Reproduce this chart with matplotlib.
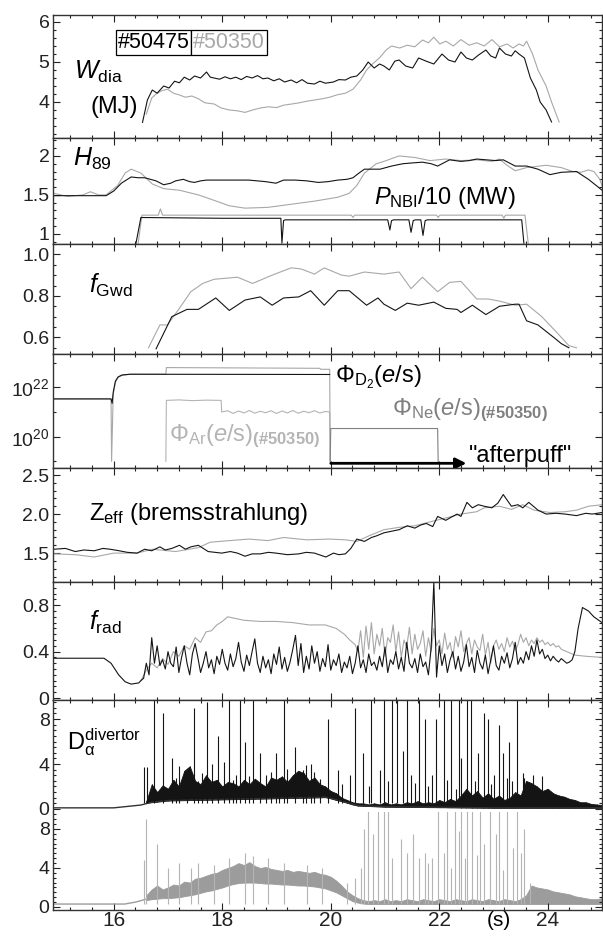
import numpy as np
import matplotlib
matplotlib.use("Agg")
import matplotlib.pyplot as plt
from matplotlib.ticker import MultipleLocator, NullFormatter, FixedLocator

plt.rcParams['font.family'] = ['Liberation Sans', 'DejaVu Sans']
plt.rcParams['mathtext.fontset'] = 'custom'
plt.rcParams['mathtext.rm'] = 'Liberation Sans'
plt.rcParams['mathtext.it'] = 'Liberation Sans:italic'
plt.rcParams['mathtext.bf'] = 'Liberation Sans:bold'

BLK = '#141414'
GRY = '#a8a8a8'
NE_GRY = '#808080'
AR_GRY = '#b4b4b4'
DA_GRY = '#9c9c9c'

XMIN, XMAX = 14.88, 25.0

# ---- W_dia (MJ)
WDIA_BLK_T = [16.53, 16.62, 16.71, 16.80, 16.92, 17.02, 17.12, 17.21, 17.30, 17.40,
              17.49, 17.60, 17.71, 17.78, 17.85, 17.95, 18.05, 18.15, 18.25, 18.35,
              18.45, 18.55, 18.65, 18.75, 18.84, 18.95, 19.05, 19.15, 19.27, 19.37,
              19.47, 19.57, 19.70, 19.80, 19.90, 20.05, 20.15, 20.27, 20.37, 20.48,
              20.59, 20.69, 20.80, 20.90, 20.98, 21.08, 21.18, 21.26, 21.38, 21.51,
              21.62, 21.76, 21.90, 22.05, 22.17, 22.29, 22.40, 22.50, 22.61, 22.73,
              22.86, 22.95, 23.04, 23.11, 23.22, 23.33, 23.40, 23.47, 23.57, 23.68,
              23.79, 23.86, 23.97, 24.07]
WDIA_BLK = [3.49, 4.05, 4.30, 4.22, 4.40, 4.35, 4.52, 4.48, 4.62, 4.55,
            4.65, 4.60, 4.75, 4.62, 4.60, 4.57, 4.63, 4.58, 4.62, 4.56,
            4.64, 4.60, 4.66, 4.58, 4.60, 4.53, 4.58, 4.50, 4.55, 4.48,
            4.56, 4.47, 4.45, 4.52, 4.47, 4.50, 4.56, 4.55, 4.62, 4.65,
            4.80, 5.00, 4.85, 4.95, 4.90, 4.80, 5.02, 5.05, 4.90, 4.85,
            5.10, 5.02, 4.95, 5.20, 5.05, 5.00, 5.25, 5.10, 5.05, 5.18,
            5.30, 5.15, 5.10, 5.35, 5.20, 5.15, 5.28, 5.20, 5.10, 4.60,
            4.30, 4.00, 3.80, 3.50]
WDIA_GRY_T = [16.60, 16.70, 16.78, 16.88, 16.99, 17.10, 17.20, 17.32, 17.44, 17.56,
              17.68, 17.85, 17.98, 18.13, 18.28, 18.42, 18.56, 18.70, 18.85, 19.00,
              19.13, 19.28, 19.42, 19.56, 19.70, 19.84, 19.98, 20.12, 20.27, 20.41,
              20.55, 20.66, 20.77, 20.91, 21.02, 21.12, 21.27, 21.41, 21.55, 21.69,
              21.80, 21.90, 22.01, 22.12, 22.26, 22.40, 22.55, 22.69, 22.83, 22.97,
              23.11, 23.25, 23.36, 23.47, 23.55, 23.61, 23.72, 23.82, 23.97, 24.07,
              24.21]
WDIA_GRY = [3.70, 4.10, 4.20, 4.28, 4.32, 4.22, 4.18, 4.12, 4.15, 4.08,
            3.98, 3.95, 3.85, 3.80, 3.78, 3.74, 3.80, 3.85, 3.88, 3.86,
            3.92, 3.95, 3.98, 4.02, 4.05, 4.08, 4.12, 4.18, 4.22, 4.32,
            4.55, 4.80, 4.95, 5.12, 5.30, 5.40, 5.35, 5.42, 5.38, 5.55,
            5.48, 5.62, 5.45, 5.52, 5.40, 5.56, 5.42, 5.48, 5.40, 5.56,
            5.38, 5.45, 5.35, 5.45, 5.40, 5.52, 5.20, 4.80, 4.40, 4.00,
            3.50]

# ---- H89 and P_NBI/10
H89_BLK_T = [14.90, 15.30, 15.86, 16.00, 16.14, 16.32, 16.45, 16.57, 16.78, 16.92,
             17.05, 17.14, 17.28, 17.40, 17.49, 17.60, 17.71, 18.10, 18.49, 18.80,
             18.99, 19.13, 19.35, 19.56, 19.77, 19.95, 20.13, 20.30, 20.41, 20.52,
             20.62, 20.91, 21.12, 21.33, 21.50, 21.69, 21.85, 21.97, 22.19, 22.40,
             22.55, 22.69, 23.04, 23.18, 23.40, 23.61, 23.82, 24.04, 24.25, 24.53,
             24.75, 24.93, 25.00]
H89_BLK = [1.49, 1.49, 1.49, 1.55, 1.65, 1.73, 1.72, 1.72, 1.68, 1.63,
           1.65, 1.68, 1.70, 1.67, 1.66, 1.68, 1.69, 1.69, 1.69, 1.67,
           1.65, 1.69, 1.69, 1.68, 1.66, 1.67, 1.69, 1.70, 1.72, 1.78,
           1.83, 1.83, 1.87, 1.90, 1.91, 1.92, 1.90, 1.87, 1.95, 1.93,
           1.94, 1.96, 1.94, 1.95, 1.87, 1.87, 1.83, 1.76, 1.79, 1.80,
           1.70, 1.60, 1.56]
H89_GRY_T = [14.90, 15.15, 15.43, 15.57, 15.72, 15.86, 16.07, 16.21, 16.32, 16.50,
             16.71, 16.92, 17.21, 17.56, 17.85, 18.13, 18.42, 18.84, 19.27, 19.70,
             20.13, 20.34, 20.48, 20.62, 20.84, 20.98, 21.26, 21.55, 21.83, 22.12,
             22.40, 22.69, 22.97, 23.11, 23.25, 23.40, 23.61, 23.97, 24.25, 24.46,
             24.61, 24.75, 24.85, 24.96, 25.00]
H89_GRY = [1.52, 1.48, 1.50, 1.54, 1.50, 1.50, 1.62, 1.78, 1.83, 1.78,
           1.64, 1.58, 1.56, 1.50, 1.43, 1.36, 1.33, 1.34, 1.38, 1.42,
           1.47, 1.52, 1.62, 1.78, 1.90, 1.93, 2.00, 1.98, 1.94, 1.96,
           1.94, 1.95, 1.93, 1.96, 1.88, 1.81, 1.85, 1.88, 1.85, 1.80,
           1.79, 1.82, 1.80, 1.70, 1.62]
NBI_BLK_T = [16.41, 16.50, 18.00, 19.08, 19.10, 19.13, 19.16, 21.05, 21.09, 21.12, 21.16,
             21.44, 21.48, 21.52, 21.56, 21.66, 21.70, 21.74, 21.78, 23.52, 23.56]
NBI_BLK = [0.88, 1.21, 1.20, 1.20, 0.88, 1.17, 1.18, 1.18, 1.05, 1.17, 1.18,
           1.18, 1.02, 1.17, 1.18, 1.18, 0.98, 1.17, 1.18, 1.18, 0.88]
NBI_GRY_T = [16.45, 16.52, 16.82, 16.86, 16.90, 18.50, 20.38, 20.41, 20.44,
             21.95, 21.98, 22.01, 23.16, 23.19, 23.22, 23.58, 23.64]
NBI_GRY = [0.88, 1.24, 1.24, 1.32, 1.24, 1.24, 1.24, 1.21, 1.24,
           1.24, 1.21, 1.24, 1.24, 1.20, 1.24, 1.24, 0.88]

# ---- f_Gwd
FGW_BLK_T = [16.78, 17.07, 17.35, 17.56, 17.88, 18.13, 18.42, 18.70, 18.92, 19.13,
             19.41, 19.63, 19.88, 20.13, 20.34, 20.66, 20.87, 20.98, 21.19, 21.41,
             21.62, 21.90, 22.12, 22.33, 22.40, 22.61, 22.86, 23.11, 23.40, 23.47,
             23.61, 23.82, 24.11, 24.25, 24.39]
FGW_BLK = [0.545, 0.70, 0.735, 0.735, 0.79, 0.73, 0.78, 0.795, 0.755, 0.79,
           0.795, 0.825, 0.755, 0.825, 0.825, 0.755, 0.79, 0.76, 0.73, 0.765,
           0.755, 0.77, 0.74, 0.735, 0.72, 0.755, 0.71, 0.75, 0.76, 0.76,
           0.68, 0.66, 0.60, 0.57, 0.55]
FGW_GRY_T = [16.64, 16.85, 16.99, 17.21, 17.42, 17.64, 17.85, 18.28, 18.56, 18.92,
             19.27, 19.45, 19.70, 19.88, 20.20, 20.34, 20.62, 20.98, 21.26, 21.48,
             21.69, 21.97, 22.19, 22.40, 22.69, 22.90, 23.11, 23.40, 23.61, 23.89,
             24.18, 24.39, 24.53]
FGW_GRY = [0.55, 0.66, 0.66, 0.74, 0.82, 0.86, 0.88, 0.89, 0.86, 0.90,
           0.935, 0.93, 0.905, 0.935, 0.90, 0.895, 0.915, 0.905, 0.915, 0.835,
           0.89, 0.82, 0.865, 0.87, 0.785, 0.785, 0.775, 0.755, 0.76, 0.70,
           0.62, 0.56, 0.55]

# ---- gas fluxes, log10(e/s)
D2_BLK_T = [14.90, 15.95, 15.97, 15.99, 16.03, 16.08, 16.15, 16.30, 19.98]
D2_BLK = [21.53, 21.53, 21.35, 21.80, 22.25, 22.42, 22.50, 22.53, 22.52]
D2_GRY_T = [14.90, 15.95, 15.96, 15.99, 16.03, 16.08, 16.15, 16.30, 16.96, 16.97,
            19.80, 19.81, 19.98, 19.99]
D2_GRY = [21.53, 21.53, 19.00, 21.70, 22.20, 22.40, 22.48, 22.53, 22.53, 22.80,
          22.77, 22.73, 22.73, 19.00]
AR_T = [16.96, 16.97, 17.20, 17.45, 17.70, 17.98, 17.99, 18.10, 18.20, 18.30,
        18.40, 18.50, 18.60, 18.70, 18.80, 18.90, 19.00, 19.10, 19.20, 19.30,
        19.40, 19.50, 19.60, 19.70, 19.80, 19.90, 19.98, 19.99]
AR = [19.00, 21.47, 21.49, 21.46, 21.48, 21.47, 21.00, 21.05, 20.94, 21.04,
      20.96, 21.06, 20.95, 21.03, 20.97, 21.05, 20.94, 21.04, 20.96, 21.06,
      20.95, 21.03, 20.97, 21.05, 20.96, 21.02, 21.00, 19.00]
NE_T = [19.99, 20.00, 21.97, 21.98]
NE = [19.00, 20.33, 20.33, 19.00]
AFTERPUFF = [20.0, 22.5, 18.92]   # start, end, log level

# ---- Z_eff
ZEF_BLK_T = [14.90, 15.11, 15.29, 15.45, 15.64, 15.80, 15.93, 16.10, 16.25, 16.43,
             16.57, 16.70, 16.85, 16.95, 17.07, 17.21, 17.32, 17.42, 17.56, 17.74,
             17.99, 18.15, 18.28, 18.42, 18.55, 18.70, 18.85, 18.99, 19.20, 19.41,
             19.55, 19.70, 19.91, 20.05, 20.15, 20.27, 20.37, 20.48, 20.62, 20.75,
             20.84, 20.98, 21.12, 21.26, 21.41, 21.55, 21.66, 21.76, 21.88, 21.97,
             22.12, 22.22, 22.33, 22.40, 22.51, 22.61, 22.72, 22.83, 22.97, 23.08,
             23.18, 23.33, 23.45, 23.54, 23.65, 23.82, 23.97, 24.15, 24.32, 24.53,
             24.70, 24.82, 25.00]
ZEF_BLK = [1.55, 1.56, 1.52, 1.54, 1.53, 1.56, 1.55, 1.53, 1.51, 1.50,
           1.55, 1.53, 1.58, 1.54, 1.56, 1.60, 1.55, 1.58, 1.60, 1.52,
           1.50, 1.52, 1.50, 1.46, 1.49, 1.49, 1.51, 1.50, 1.48, 1.49,
           1.51, 1.50, 1.45, 1.50, 1.48, 1.49, 1.56, 1.68, 1.65, 1.70,
           1.72, 1.76, 1.78, 1.80, 1.85, 1.82, 1.86, 1.88, 1.84, 1.97,
           1.92, 1.96, 2.00, 1.97, 2.15, 2.08, 2.12, 2.10, 2.08, 2.14,
           2.25, 2.10, 2.12, 2.08, 2.15, 2.05, 2.00, 2.01, 2.00, 1.98,
           2.01, 2.00, 2.02]
ZEF_GRY_T = [14.90, 15.29, 15.64, 16.00, 16.43, 16.71, 17.14, 17.56, 17.78, 18.13,
             18.49, 18.84, 19.13, 19.56, 19.98, 20.27, 20.48, 20.70, 20.98, 21.26,
             21.55, 21.83, 22.12, 22.40, 22.69, 22.83, 23.11, 23.33, 23.54, 23.75,
             24.04, 24.32, 24.53, 24.75, 25.00]
ZEF_GRY = [1.49, 1.48, 1.45, 1.50, 1.50, 1.55, 1.52, 1.57, 1.64, 1.66,
           1.68, 1.66, 1.70, 1.67, 1.68, 1.67, 1.65, 1.72, 1.80, 1.83,
           1.85, 1.90, 1.95, 2.00, 2.03, 2.08, 2.10, 2.06, 2.12, 2.05,
           2.02, 2.03, 2.05, 2.10, 2.12]

# ---- f_rad
FRAD_BLK_HEAD_T = [14.90, 15.82, 15.95, 16.09, 16.21, 16.32, 16.46, 16.50]
FRAD_BLK_HEAD = [0.343, 0.343, 0.30, 0.20, 0.14, 0.12, 0.13, 0.15]
FRAD_BLK_T0, FRAD_DT = 16.55, 0.05
FRAD_BLK_NOISE = [
    0.17, 0.30, 0.20, 0.52, 0.30, 0.45, 0.28, 0.33, 0.25, 0.40, 0.30, 0.27, 0.44, 0.22, 0.35, 0.45, 0.30, 0.20, 0.38, 0.47,
    0.35, 0.22, 0.30, 0.40, 0.26, 0.33, 0.21, 0.36, 0.29, 0.42, 0.30, 0.24, 0.38, 0.27, 0.34, 0.48, 0.31, 0.23, 0.37, 0.28,
    0.40, 0.51, 0.30, 0.22, 0.36, 0.26, 0.33, 0.21, 0.38, 0.29, 0.44, 0.25, 0.35, 0.23, 0.31, 0.42, 0.54, 0.28, 0.47, 0.22,
    0.36, 0.25, 0.45, 0.30, 0.40, 0.23, 0.34, 0.27, 0.46, 0.24, 0.33, 0.28, 0.38, 0.22, 0.31, 0.26, 0.36, 0.21, 0.30, 0.45,
    0.26, 0.33, 0.22, 0.38, 0.28, 0.31, 0.24, 0.36, 0.27, 0.44, 0.22, 0.33, 0.29, 0.40, 0.25, 0.35, 0.23, 0.48, 0.30, 0.26,
    0.34, 0.22, 0.38, 0.27, 0.31, 0.20, 0.43, 1.00, 0.18, 0.45, 0.28, 0.38, 0.22, 0.33, 0.40, 0.25, 0.36, 0.23, 0.31, 0.46,
    0.27, 0.35, 0.22, 0.41, 0.30, 0.25, 0.37, 0.21, 0.33, 0.45, 0.28, 0.24, 0.36, 0.30, 0.39, 0.26, 0.34, 0.48, 0.29, 0.35,
    0.30, 0.40, 0.33, 0.45, 0.36, 0.50, 0.38, 0.42, 0.34, 0.37, 0.32, 0.36, 0.33, 0.31, 0.34, 0.32, 0.30, 0.31, 0.33]
FRAD_BLK_TAIL_T = [24.50, 24.56, 24.64, 24.75, 24.85, 25.00]
FRAD_BLK_TAIL = [0.40, 0.60, 0.78, 0.75, 0.70, 0.65]

FRAD_GRY_HEAD_T = [16.50, 16.60, 16.70, 16.80, 16.90, 17.00, 17.10, 17.20, 17.30, 17.40,
                   17.50, 17.60, 17.70, 17.80, 17.90, 18.00, 18.10, 18.40, 18.70, 19.00,
                   19.30, 19.60, 19.90, 20.10, 20.25, 20.35, 20.45]
FRAD_GRY_HEAD = [0.15, 0.24, 0.30, 0.26, 0.34, 0.29, 0.40, 0.36, 0.45, 0.42,
                 0.52, 0.48, 0.57, 0.58, 0.63, 0.66, 0.70, 0.67, 0.66, 0.66,
                 0.65, 0.63, 0.63, 0.60, 0.55, 0.50, 0.46]
FRAD_GRY_T0 = 20.50
FRAD_GRY_NOISE = [
    0.40, 0.58, 0.35, 0.62, 0.42, 0.65, 0.38, 0.55, 0.45, 0.60, 0.36, 0.52, 0.48, 0.63, 0.40, 0.57, 0.35, 0.50, 0.44, 0.61,
    0.38, 0.55, 0.42, 0.47, 0.58, 0.36, 0.52, 0.40, 0.60, 0.45, 0.50, 0.38, 0.56, 0.42, 0.48, 0.35, 0.53, 0.44, 0.58, 0.40,
    0.47, 0.52, 0.38, 0.50, 0.44, 0.41, 0.55, 0.37, 0.48, 0.30, 0.45, 0.50, 0.42, 0.47, 0.40, 0.52, 0.44, 0.49, 0.41, 0.46,
    0.55, 0.48, 0.52, 0.45, 0.50, 0.47, 0.52, 0.48, 0.50, 0.46, 0.48, 0.45, 0.47, 0.44, 0.45, 0.42]
FRAD_GRY_TAIL_T = [24.35, 24.50, 24.70, 25.00]
FRAD_GRY_TAIL = [0.40, 0.37, 0.36, 0.35]

# ---- D_alpha divertor, #50475
DA1_BASE_T = [14.90, 16.00, 16.10, 16.30, 16.50, 16.70, 17.00, 18.00, 19.00, 19.90,
              20.20, 20.50, 21.00, 22.00, 23.00, 24.00, 25.00]
DA1_BASE = [0.10, 0.10, 0.15, 0.25, 0.35, 0.60, 0.75, 0.85, 0.95, 1.05,
            0.70, 0.30, 0.20, 0.15, 0.10, 0.10, 0.10]
DA_GRID_T0, DA_GRID_DT = 16.6, 0.1
DA1_GRASS_HI = [
    0.7, 2.2, 1.5, 2.1, 1.8, 2.6, 2.0, 3.4, 3.8, 2.5,
    2.2, 3.0, 2.4, 2.6, 2.0, 2.4, 2.3, 2.0, 2.6, 2.2,
    2.7, 2.3, 2.0, 2.8, 2.6, 2.9, 2.4, 3.0, 3.4, 3.2,
    2.5, 2.8, 2.2, 2.0, 1.6, 1.4, 1.0, 0.8, 0.6, 0.5,
    0.5, 0.4, 0.5, 0.4, 0.6, 0.4, 0.5, 0.4, 0.6, 0.5,
    0.7, 0.5, 0.6, 0.5, 0.8, 0.6, 0.9, 0.7, 1.2, 1.8,
    1.2, 1.6, 1.0, 1.4, 0.9, 1.2, 0.8, 1.0, 1.5, 1.2,
    2.5, 2.3, 2.0, 1.6, 1.8, 1.4, 1.2, 1.1, 0.9, 0.8,
    0.6, 0.6, 0.45, 0.4, 0.35]
DA1_GRASS_LO = [
    0.55, 0.60, 0.65, 0.70, 0.75, 0.76, 0.77, 0.78, 0.79, 0.80,
    0.81, 0.82, 0.83, 0.84, 0.85, 0.86, 0.87, 0.88, 0.89, 0.90,
    0.91, 0.92, 0.93, 0.94, 0.95, 0.96, 0.97, 0.98, 0.99, 1.00,
    1.01, 1.02, 1.03, 1.05, 0.95, 0.80, 0.70, 0.55, 0.40, 0.30,
    0.28, 0.26, 0.24, 0.22, 0.20, 0.20, 0.19, 0.19, 0.18, 0.18,
    0.17, 0.17, 0.16, 0.16, 0.15, 0.15, 0.14, 0.14, 0.13, 0.13,
    0.12, 0.12, 0.11, 0.11, 0.10, 0.10, 0.10, 0.10, 0.10, 0.10,
    0.10, 0.10, 0.10, 0.10, 0.10, 0.10, 0.10, 0.10, 0.10, 0.10,
    0.10, 0.10, 0.10, 0.10, 0.10]
DA1_SPIKE_T = [16.55, 16.62, 16.75, 16.91, 17.08, 17.15, 17.21, 17.35, 17.47, 17.55,
               17.62, 17.71, 17.81, 17.92, 18.03, 18.13, 18.20, 18.25, 18.33, 18.42,
               18.50, 18.56, 18.70, 18.81, 18.90, 18.99, 19.05, 19.13, 19.20, 19.34,
               19.49, 19.55, 19.63, 19.70, 19.80, 19.95, 20.13, 20.20, 20.35, 20.45,
               20.59, 20.70, 20.75, 20.91, 20.98, 21.05, 21.12, 21.23, 21.33, 21.41,
               21.48, 21.55, 21.62, 21.73, 21.80, 21.87, 21.94, 22.08, 22.15, 22.22,
               22.30, 22.37, 22.40, 22.51, 22.58, 22.65, 22.72, 22.83, 22.90, 22.95,
               23.01, 23.11, 23.18, 23.25, 23.29, 23.35, 23.43, 23.54, 23.57, 23.65,
               23.72, 23.89]
DA1_SPIKE = [3.7, 3.7, 10.0, 8.5, 4.5, 2.8, 3.8, 3.5, 9.0, 2.5,
             3.2, 9.5, 4.0, 6.5, 4.2, 10.0, 2.6, 3.0, 10.0, 6.0,
             2.9, 10.0, 5.0, 3.0, 3.3, 5.0, 2.8, 10.0, 3.6, 5.5,
             3.5, 3.9, 4.0, 3.3, 2.7, 8.0, 3.5, 2.2, 3.0, 9.0,
             5.0, 2.0, 10.0, 3.5, 10.0, 2.5, 10.0, 10.0, 5.2, 10.0,
             3.0, 2.3, 10.0, 8.0, 2.0, 3.0, 8.0, 10.0, 2.6, 10.0,
             1.8, 10.0, 4.5, 10.0, 10.0, 2.5, 5.0, 8.5, 8.0, 2.2,
             3.0, 7.5, 5.0, 2.8, 6.0, 2.5, 10.0, 3.2, 2.8, 2.4,
             3.0, 2.9]

# ---- D_alpha divertor, #50350
DA2_BASE_T = [14.90, 16.20, 16.40, 16.60]
DA2_BASE = [0.30, 0.30, 0.50, 0.80]
DA2_BAND_HI = [
    1.2, 1.8, 2.2, 1.8, 2.0, 2.3, 2.2, 2.6, 2.5, 2.9,
    3.0, 3.2, 3.4, 3.5, 3.8, 4.0, 4.2, 4.5, 4.3, 4.6,
    4.2, 4.0, 4.1, 3.9, 3.8, 3.7, 3.8, 3.6, 3.7, 3.6,
    3.5, 3.6, 3.4, 3.3, 3.1, 2.7, 2.2, 1.6, 1.2, 0.9,
    0.7, 0.6, 0.7, 0.6, 0.8, 0.6, 0.7, 0.6, 0.8, 0.7,
    0.6, 0.8, 0.7, 0.6, 0.8, 0.7, 0.6, 0.8, 0.7, 0.6,
    0.8, 0.7, 0.6, 0.8, 0.7, 0.6, 0.8, 0.7, 0.6, 0.8,
    1.2, 2.2, 2.0, 1.9, 1.8, 1.6, 1.5, 1.4, 1.3, 1.1,
    1.0, 0.9, 0.8, 0.8, 0.9]
DA2_BAND_LO = [
    0.70, 0.80, 0.85, 0.90, 0.90, 0.95, 1.00, 1.10, 1.20, 1.30,
    1.45, 1.60, 1.70, 1.85, 2.00, 2.20, 2.35, 2.45, 2.50, 2.50,
    2.50, 2.45, 2.40, 2.40, 2.35, 2.30, 2.30, 2.25, 2.20, 2.20,
    2.15, 2.10, 2.00, 1.90, 1.70, 1.50, 1.20, 0.90, 0.60, 0.45,
    0.35, 0.30, 0.30, 0.30, 0.30, 0.30, 0.30, 0.30, 0.30, 0.30,
    0.30, 0.30, 0.30, 0.30, 0.30, 0.30, 0.30, 0.30, 0.30, 0.30,
    0.30, 0.30, 0.30, 0.30, 0.30, 0.30, 0.30, 0.30, 0.30, 0.30,
    0.30, 0.30, 0.30, 0.30, 0.30, 0.30, 0.30, 0.30, 0.30, 0.30,
    0.30, 0.30, 0.30, 0.30, 0.30]
DA2_SPIKE_T = [16.55, 16.60, 16.80, 17.00, 17.21, 17.42, 17.56, 17.85, 18.13, 18.42,
               18.56, 18.84, 19.13, 19.56, 19.84, 20.30, 20.45, 20.55, 20.62, 20.69,
               20.77, 20.87, 20.98, 21.05, 21.12, 21.30, 21.41, 21.51, 21.62, 21.73,
               21.80, 21.87, 21.97, 22.08, 22.15, 22.22, 22.29, 22.37, 22.40, 22.47,
               22.51, 22.61, 22.69, 22.76, 22.83, 22.93, 23.04, 23.11, 23.18, 23.25,
               23.36, 23.43, 23.51, 23.57, 23.68]
DA2_SPIKE = [4.8, 9.0, 6.5, 4.0, 4.5, 4.0, 4.5, 4.3, 5.0, 5.5,
             5.2, 5.0, 4.5, 4.3, 4.0, 2.5, 3.0, 4.0, 8.0, 10.0,
             7.5, 10.0, 10.0, 10.0, 5.0, 7.0, 5.5, 7.5, 5.0, 5.5,
             4.5, 5.0, 10.0, 5.5, 10.0, 4.0, 10.0, 7.8, 10.0, 5.0,
             10.0, 10.0, 5.3, 10.0, 6.5, 10.0, 7.5, 10.0, 3.8, 10.0,
             6.0, 10.0, 5.5, 8.0, 2.5]

XTICKS = [16, 18, 20, 22, 24]

fig = plt.figure(figsize=(6.03, 9.36), dpi=100)
H = 936.0
edges = [15, 138, 244, 354, 468, 582, 700, 812, 910]
axs = []
for i in range(8):
    top, bot = edges[i], edges[i + 1]
    axs.append(fig.add_axes([53 / 603, 1 - bot / H, 549 / 603, (bot - top) / H]))

TICK_FS = 14
LAB_FS = 17


def style(ax, ylim, yticks, ylabels, yminor):
    ax.set_xlim(XMIN, XMAX)
    ax.set_ylim(*ylim)
    ax.xaxis.set_major_locator(FixedLocator(XTICKS))
    ax.xaxis.set_minor_locator(MultipleLocator(0.4))
    if yticks is not None:
        ax.set_yticks(yticks)
        ax.set_yticklabels(ylabels)
    if yminor is not None:
        ax.yaxis.set_minor_locator(MultipleLocator(yminor))
    ax.tick_params(which='both', direction='in', top=True, right=True,
                   labelsize=TICK_FS, width=0.8, pad=2.5, colors='#222222')
    ax.tick_params(which='major', length=5)
    ax.tick_params(which='minor', length=2.5)
    ax.tick_params(axis='x', labelbottom=False)
    for s in ax.spines.values():
        s.set_linewidth(1.0)
        s.set_color('#333333')


def noisy_t(t0, vals):
    return t0 + FRAD_DT * np.arange(len(vals))


lw = 0.8

# panel 1: W_dia
ax = axs[0]
ax.plot(WDIA_GRY_T, WDIA_GRY, color=GRY, lw=lw)
ax.plot(WDIA_BLK_T, WDIA_BLK, color=BLK, lw=lw)
style(ax, (3.1, 6.175), [4, 5, 6], ['4', '5', '6'], 0.2)
ax.text(0.038, 0.54, r'$W_{\rm dia}$', transform=ax.transAxes, fontsize=LAB_FS + 1, va='center')
ax.text(0.068, 0.25, '(MJ)', transform=ax.transAxes, fontsize=LAB_FS, va='center')
t1 = ax.text(0.118, 0.775, '#50475', transform=ax.transAxes, fontsize=15.5, color='black',
             va='center', bbox=dict(boxstyle='square,pad=0.08', fc='white', ec='black', lw=0.9))
ax.annotate('#50350', xy=(1.0, 0.5), xycoords=t1, xytext=(2.4, 0), textcoords='offset points',
            fontsize=15.5, color=GRY, va='center', ha='left',
            bbox=dict(boxstyle='square,pad=0.08', fc='white', ec='black', lw=0.9))

# panel 2: H89 and NBI
ax = axs[1]
ax.plot(H89_GRY_T, H89_GRY, color=GRY, lw=lw)
ax.plot(H89_BLK_T, H89_BLK, color=BLK, lw=lw)
ax.plot(NBI_GRY_T, NBI_GRY, color=GRY, lw=lw)
ax.plot(NBI_BLK_T, NBI_BLK, color=BLK, lw=lw)
style(ax, (0.87, 2.23), [1, 1.5, 2], ['1', '1.5', '2'], 0.1)
ax.text(0.037, 0.8, r'$H_{89}$', transform=ax.transAxes, fontsize=LAB_FS + 1, va='center')
ax.text(0.585, 0.43, r'$P_{\rm NBI}$/10 (MW)', transform=ax.transAxes, fontsize=LAB_FS, va='center')

# panel 3: f_Gwd
ax = axs[2]
ax.plot(FGW_GRY_T, FGW_GRY, color=GRY, lw=lw)
ax.plot(FGW_BLK_T, FGW_BLK, color=BLK, lw=lw)
style(ax, (0.52, 1.05), [0.6, 0.8, 1.0], ['0.6', '0.8', '1.0'], 0.05)
ax.text(0.065, 0.62, r'$f_{\rm Gwd}$', transform=ax.transAxes, fontsize=LAB_FS + 1, va='center')

# panel 4: gas fluxes (log)
ax = axs[3]
ax.set_yscale('log')
ax.plot(AR_T, 10.0 ** np.array(AR), color=AR_GRY, lw=lw)
ax.plot(D2_GRY_T, 10.0 ** np.array(D2_GRY), color=GRY, lw=lw)
ax.plot(NE_T, 10.0 ** np.array(NE), color=NE_GRY, lw=lw)
ax.plot(D2_BLK_T, 10.0 ** np.array(D2_BLK), color=BLK, lw=lw)
ax.annotate('', xy=(AFTERPUFF[1], 10 ** AFTERPUFF[2]), xytext=(AFTERPUFF[0], 10 ** AFTERPUFF[2]),
            arrowprops=dict(arrowstyle='-|>', color='black', lw=2.0, mutation_scale=16,
                            shrinkA=0, shrinkB=0))
style(ax, (10 ** 18.73, 10 ** 23.35), [1e20, 1e22], [r'$10^{20}$', r'$10^{22}$'], None)
ax.yaxis.set_minor_locator(FixedLocator([1e19, 1e21, 1e23]))
ax.yaxis.set_minor_formatter(NullFormatter())
ax.text(20.08, 10 ** 22.4, r'$\Phi_{\rm D_2}(e/{\rm s})$', fontsize=LAB_FS, va='center')
ax.text(21.12, 10 ** 21.05, r'$\Phi_{\rm Ne}(e/{\rm s})_{\mathbf{(\#50350)}}$', fontsize=LAB_FS,
        va='center', color=NE_GRY)
ax.text(17.02, 10 ** 20.0, r'$\Phi_{\rm Ar}(e/{\rm s})_{\mathbf{(\#50350)}}$', fontsize=LAB_FS,
        va='center', color=AR_GRY)
ax.text(22.55, 10 ** 19.2, '"afterpuff"', fontsize=LAB_FS, va='center')

# panel 5: Z_eff
ax = axs[4]
ax.plot(ZEF_GRY_T, ZEF_GRY, color=GRY, lw=lw)
ax.plot(ZEF_BLK_T, ZEF_BLK, color=BLK, lw=lw)
style(ax, (1.13, 2.59), [1.5, 2.0, 2.5], ['1.5', '2.0', '2.5'], 0.1)
ax.text(0.065, 0.6, r'Z$_{\rm eff}$ (bremsstrahlung)', transform=ax.transAxes,
        fontsize=LAB_FS, va='center')

# panel 6: f_rad
ax = axs[5]
tgn = noisy_t(FRAD_GRY_T0, FRAD_GRY_NOISE)
ax.plot(FRAD_GRY_HEAD_T + list(tgn) + FRAD_GRY_TAIL_T,
        FRAD_GRY_HEAD + FRAD_GRY_NOISE + FRAD_GRY_TAIL, color=GRY, lw=lw)
tb = noisy_t(FRAD_BLK_T0, FRAD_BLK_NOISE)
ax.plot(FRAD_BLK_HEAD_T + list(tb) + FRAD_BLK_TAIL_T,
        FRAD_BLK_HEAD + FRAD_BLK_NOISE + FRAD_BLK_TAIL, color=BLK, lw=lw)
style(ax, (-0.017, 1.0), [0, 0.4, 0.8], ['0', '0.4', '0.8'], 0.05)
ax.text(0.065, 0.66, r'$f_{\rm rad}$', transform=ax.transAxes, fontsize=LAB_FS + 1, va='center')

# panel 7: D_alpha #50475
ax = axs[6]
tg = DA_GRID_T0 + DA_GRID_DT * np.arange(len(DA1_GRASS_HI))
ax.fill_between(tg, DA1_GRASS_LO, DA1_GRASS_HI, color=BLK, lw=0.6, edgecolor=BLK)
ax.vlines(tg, DA1_GRASS_LO, DA1_GRASS_HI, color=BLK, lw=0.6)
ax.plot(DA1_BASE_T, DA1_BASE, color='#333333', lw=1.0)
ax.vlines(DA1_SPIKE_T, 0.5, DA1_SPIKE, color=BLK, lw=0.8)
style(ax, (-0.27, 9.7), [0, 4, 8], ['0', '4', '8'], 0.5)
ax.spines['bottom'].set_visible(False)
ax.tick_params(which='both', bottom=False)
ax.text(0.025, 0.62, r'D$_{\mathrm{\alpha}}^{\rm divertor}$', transform=ax.transAxes,
        fontsize=LAB_FS, va='center')

# panel 8: D_alpha #50350
ax = axs[7]
ax.fill_between(tg, DA2_BAND_LO, DA2_BAND_HI, color=DA_GRY, lw=0.6, edgecolor=DA_GRY)
ax.plot(DA2_BASE_T, DA2_BASE, color=DA_GRY, lw=1.0)
ax.vlines(DA2_SPIKE_T, 0.3, DA2_SPIKE, color='#b4b4b4', lw=0.8)
style(ax, (-0.31, 9.74), [0, 4, 8], ['0', '4', '8'], 0.5)
ax.spines['top'].set_visible(False)
ax.tick_params(which='both', top=False)
ax.tick_params(axis='x', labelbottom=True, pad=1, labelsize=15)
ax.set_xticklabels([str(v) for v in XTICKS])
ax.text(23.1, -0.015, '(s)', transform=ax.get_xaxis_transform(), fontsize=15,
        ha='center', va='top')

fig.savefig('out.png', dpi=100)
